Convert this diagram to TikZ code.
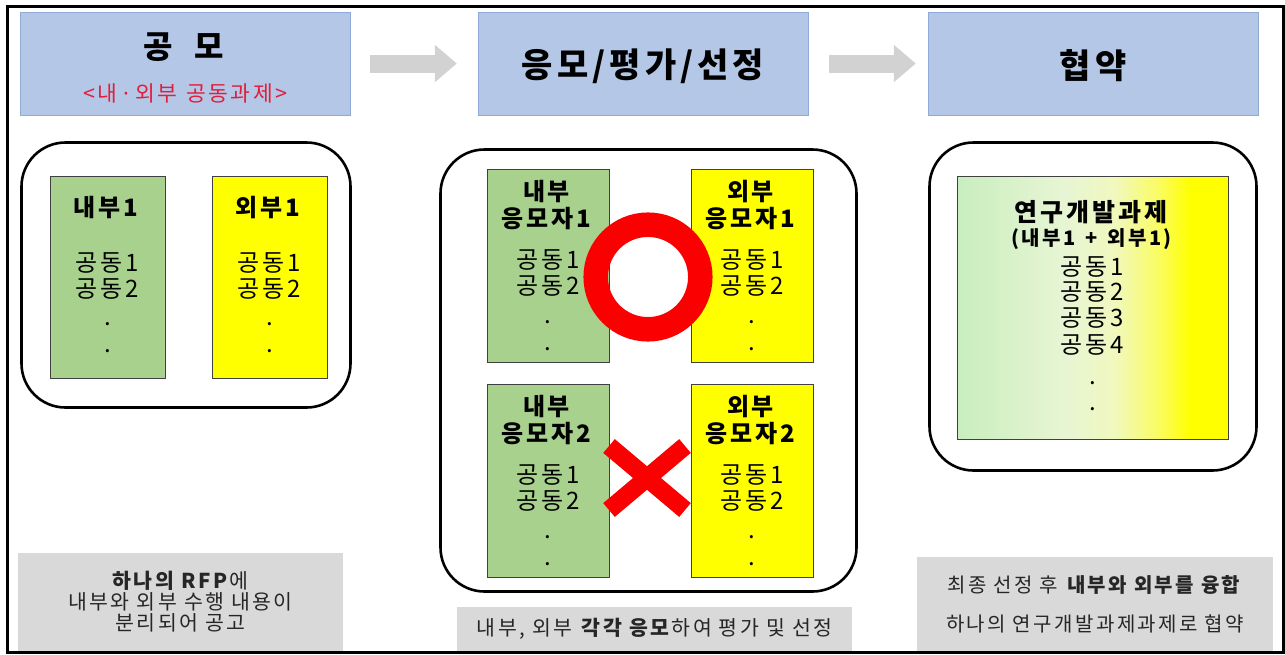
\documentclass[tikz,border=0pt]{standalone}
\usepackage{fontspec}
\setmainfont{Noto Sans CJK KR}[LetterSpace=12]
\usetikzlibrary{positioning,arrows.meta,shapes.misc}

\definecolor{hdrblue}{RGB}{180,199,231}
\definecolor{hdrline}{RGB}{143,170,215}
\definecolor{grnbox}{RGB}{169,209,142}
\definecolor{ylwbox}{RGB}{255,255,0}
\definecolor{arrgray}{RGB}{210,210,210}
\definecolor{lblgray}{RGB}{217,217,217}
\definecolor{redtxt}{RGB}{225,30,60}
\definecolor{markred}{RGB}{250,0,0}
\pgfdeclarehorizontalshading{projshade}{100bp}{color(0bp)=(rgb,255:red,200;green,238;blue,190);
	color(25bp)=(rgb,255:red,200;green,238;blue,190); color(45bp)=(rgb,255:red,232;green,245;blue,212);
	color(54bp)=(rgb,255:red,240;green,248;blue,190); color(62bp)=(rgb,255:red,250;green,252;blue,100);
	color(68bp)=(rgb,255:red,255;green,255;blue,0); color(100bp)=(rgb,255:red,255;green,255;blue,0)}

\begin{document}
\begin{tikzpicture}[x=1pt,y=-1pt,
	hdr/.style={draw=hdrline,fill=hdrblue,minimum width=330pt,minimum height=103pt,inner sep=0pt},
	grp/.style={draw,line width=2.6pt,rounded corners=44pt,inner sep=0pt},
	inbox/.style={draw=black!75,line width=0.8pt,inner sep=0pt},
	intxt/.style={inner sep=0pt,align=center,font=\fontsize{24}{27}\selectfont},
	lbl/.style={fill=lblgray,inner sep=0pt,align=center,text=black!85,font=\fontsize{20.5}{21}\selectfont},
	bigarr/.style={draw=arrgray,line width=18pt,-{Triangle[length=22pt,width=36pt]}}]

	\useasboundingbox (0,0) rectangle (1285,654);
	\fill[white] (0,0) rectangle (1285,654);

	% headers
	\node[hdr] (h1) at (185.5,63.5) {};
	\node[hdr] (h2) at (643,63.5) {};
	\node[hdr] (h3) at (1093,63.5) {};
	\node[inner sep=0pt,align=center,font=\fontsize{32}{43}\selectfont] (h1t) at (185.5,67.5)
		{\textbf{공\hspace{22pt}모}\\{\color{redtxt}\fontsize{21.5}{43}\selectfont <내·외부\hspace{9pt}공동과제>}};
	\node[inner sep=0pt,font=\fontsize{34}{38}\selectfont\bfseries] (h2t) at (643,66) {응모/평가/선정};
	\node[inner sep=0pt,font=\fontsize{34}{38}\selectfont\bfseries] (h3t) at (1093,66) {협약};
	\draw[bigarr,shorten <=19pt,shorten >=21pt] (h1) -- (h2);
	\draw[bigarr,shorten <=21pt,shorten >=12pt] (h2) -- (h3);

	% rounded frames
	\node[grp,minimum width=329pt,minimum height=265pt] (g1) at (186,275) {};
	\node[grp,minimum width=416pt,minimum height=442pt] (g2) at (648.5,370.5) {};
	\node[grp,minimum width=327pt,minimum height=328pt] (g3) at (1093,306.5) {};

	% 공모
	\node[inbox,fill=grnbox,minimum width=115pt,minimum height=202pt] (in1) at (107.5,277) {};
	\node[inbox,fill=ylwbox,minimum width=115pt,minimum height=202pt] (ex1) at (269.5,277) {};
	\node[intxt,below=20pt of in1.north] (in1t) {\textbf{내부1}\\[28pt]공동1\\[-1pt]공동2\\[1.5pt].\\.};
	\node[intxt,below=20pt of ex1.north] (ex1t) {\textbf{외부1}\\[28pt]공동1\\[-1pt]공동2\\[1.5pt].\\.};

	% 응모/평가/선정
	\node[inbox,fill=grnbox,minimum width=122pt,minimum height=193pt] (ap1) at (548,265.5) {};
	\node[inbox,fill=ylwbox,minimum width=122pt,minimum height=193pt] (bp1) at (752,265.5) {};
	\node[inbox,fill=grnbox,minimum width=122pt,minimum height=193pt] (ap2) at (548,481) {};
	\node[inbox,fill=ylwbox,minimum width=122pt,minimum height=193pt] (bp2) at (752,481) {};
	\node[intxt,below=11pt of ap1.north] (ap1t) {\textbf{내부}\\\textbf{응모자1}\\[14pt]공동1\\[-1pt]공동2\\[2pt].\\.};
	\node[intxt,below=11pt of bp1.north] (bp1t) {\textbf{외부}\\\textbf{응모자1}\\[14pt]공동1\\[-1pt]공동2\\[2pt].\\.};
	\node[intxt,below=11pt of ap2.north] (ap2t) {\textbf{내부}\\\textbf{응모자2}\\[14pt]공동1\\[-1pt]공동2\\[2pt].\\.};
	\node[intxt,below=11pt of bp2.north] (bp2t) {\textbf{외부}\\\textbf{응모자2}\\[14pt]공동1\\[-1pt]공동2\\[2pt].\\.};
	\node[circle,draw=markred,line width=24.5pt,minimum size=104.6pt,inner sep=0pt] (ok) at (648,277) {};
	\node[cross out,draw=markred,line width=18pt,outer sep=0pt,minimum width=76pt,minimum height=64pt,inner sep=0pt] (no) at (647,478) {};

	% 협약
	\node[inbox,shading=projshade,minimum width=271pt,minimum height=263pt] (pj) at (1092.5,307.5) {};
	\node[intxt,font=\fontsize{24}{26}\selectfont,below=25pt of pj.north] (pjt)
		{\textbf{\fontsize{25}{26}\selectfont 연구개발과제}\\[-2.5pt]\textbf{\fontsize{20}{26}\selectfont (내부1\hspace{10pt}+\hspace{10pt}외부1)}\\[4.5pt]공동1\\[-1pt]공동2\\공동3\\[0.5pt]공동4\\[5pt].\\.};

	% bottom notes
	\node[lbl,minimum width=325pt,minimum height=98pt] (lb1) at (180.5,602) {\textbf{하나의 RFP}에\\내부와 외부 수행 내용이\\분리되어 공고};
	\node[lbl,minimum width=395pt,minimum height=44pt] (lb2) at (654.5,629) {내부, 외부 \textbf{각각 응모}하여 평가 및 선정};
	\node[lbl,font=\fontsize{20}{21}\selectfont,minimum width=356pt,minimum height=94pt] (lb3) at (1095,604) {최종 선정 후 \textbf{내부와 외부를 융합}\\[18pt]하나의 연구개발과제과제로 협약};

	\draw[line width=3pt] (7,6.5) rectangle (1283,652.5);
\end{tikzpicture}
\end{document}
